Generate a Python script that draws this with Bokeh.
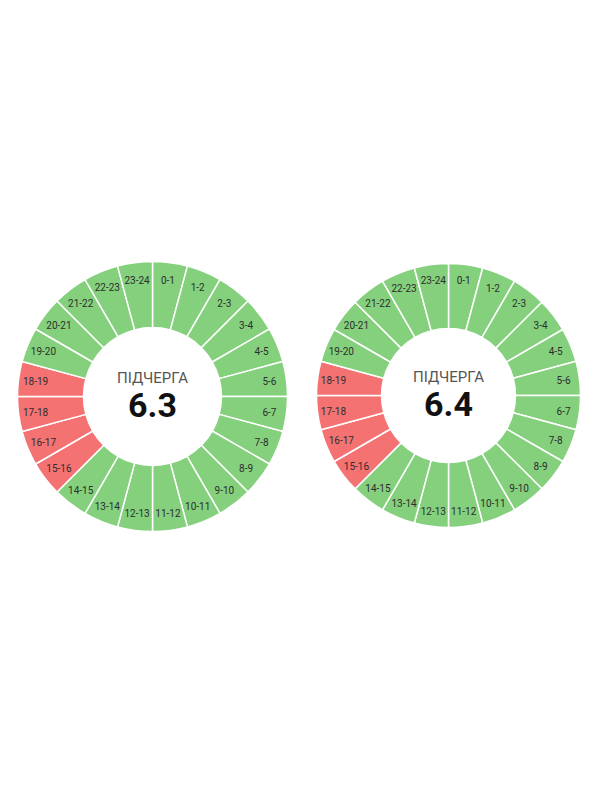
import math
from bokeh.plotting import figure
from bokeh.models import Range1d, ColumnDataSource
from bokeh.core.properties import value
from bokeh.embed import file_html
from bokeh.resources import INLINE

hours = [f"{h}-{h+1}" for h in range(24)]
outage_left = [0]*15 + [1, 1, 1, 1] + [0]*5
outage_right = [0]*15 + [1, 1, 1, 1] + [0]*5
titles = ["6.3", "6.4"]
subtitle = "ПІДЧЕРГА"

GREEN = "#84d07c"
RED = "#f47272"

W, H = 584, 784
p = figure(width=W, height=H, output_backend="svg", toolbar_location=None,
           x_range=Range1d(0, W), y_range=Range1d(0, H), min_border=0,
           outline_line_color=None, background_fill_color="white")
p.axis.visible = False
p.grid.visible = False

charts = [
    dict(cx=152, cy=784 - 396, r_in=69, r_out=135, r_lab=118, status=outage_left, title=titles[0]),
    dict(cx=448, cy=784 - 395, r_in=67, r_out=132, r_lab=116, status=outage_right, title=titles[1]),
]

for c in charts:
    starts, ends, colors, lx, ly = [], [], [], [], []
    for i, s in enumerate(c["status"]):
        a0 = math.radians(90 - 15 * (i + 1))
        a1 = math.radians(90 - 15 * i)
        starts.append(a0)
        ends.append(a1)
        colors.append(RED if s else GREEN)
        am = math.radians(90 - 15 * i - 7.5)
        lx.append(c["cx"] + c["r_lab"] * math.cos(am))
        ly.append(c["cy"] + c["r_lab"] * math.sin(am))
    src = ColumnDataSource(dict(start=starts, end=ends, color=colors, lx=lx, ly=ly, lab=hours))
    p.annular_wedge(x=c["cx"], y=c["cy"], inner_radius=c["r_in"], outer_radius=c["r_out"],
                    start_angle="start", end_angle="end", fill_color="color",
                    line_color="white", line_width=1.5, source=src)
    p.text(x="lx", y="ly", text="lab", source=src, text_align="center", text_baseline="middle",
           text_font=value("Roboto"), text_font_size="10px", text_color="#2e2e2e")
    p.text(x=[c["cx"]], y=[c["cy"] + 19], text=[subtitle], text_align="center", text_baseline="middle",
           text_font=value("Roboto"), text_font_style="normal", text_font_size="15px", text_color="#555555")
    p.text(x=[c["cx"]], y=[c["cy"] - 8], text=[c["title"]], text_align="center", text_baseline="middle",
           text_font=value("Roboto"), text_font_style="bold", text_font_size="34px", text_color="#111111")

open("out.html", "w").write(file_html(p, INLINE))
